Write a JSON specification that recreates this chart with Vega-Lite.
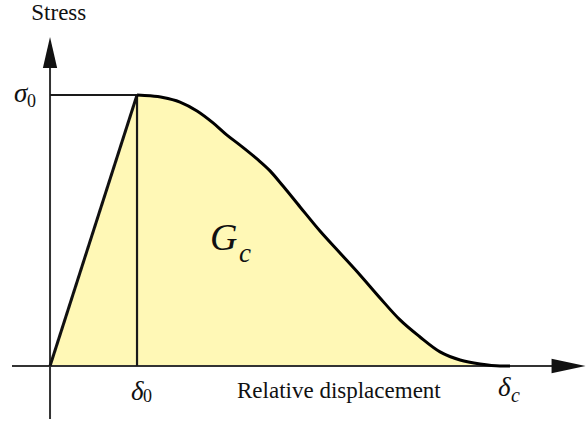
{
  "$schema": "https://vega.github.io/schema/vega-lite/v6.json",
  "width": 587,
  "height": 421,
  "autosize": {"type": "fit", "contains": "padding"},
  "padding": 0,
  "background": "white",
  "config": {"view": {"stroke": null}},
  "datasets": {
    "law": [
      {"d": 0.0, "s": 0.0},
      {"d": 1.0, "s": 1.0},
      {"d": 1.149, "s": 0.997},
      {"d": 1.299, "s": 0.991},
      {"d": 1.494, "s": 0.974},
      {"d": 1.690, "s": 0.941},
      {"d": 1.874, "s": 0.897},
      {"d": 2.034, "s": 0.852},
      {"d": 2.184, "s": 0.815},
      {"d": 2.379, "s": 0.764},
      {"d": 2.529, "s": 0.720},
      {"d": 2.678, "s": 0.664},
      {"d": 2.874, "s": 0.587},
      {"d": 3.103, "s": 0.498},
      {"d": 3.333, "s": 0.417},
      {"d": 3.563, "s": 0.336},
      {"d": 3.793, "s": 0.251},
      {"d": 4.023, "s": 0.170},
      {"d": 4.253, "s": 0.107},
      {"d": 4.483, "s": 0.052},
      {"d": 4.713, "s": 0.022},
      {"d": 4.943, "s": 0.007},
      {"d": 5.172, "s": 0.0},
      {"d": 5.287, "s": 0.0}
    ],
    "axes": [
      {"axis": "x", "d": -0.437, "s": 0, "d2": 5.98, "s2": 0},
      {"axis": "y", "d": 0, "s": -0.196, "d2": 0, "s2": 1.185}
    ],
    "guides": [
      {"guide": "sigma0", "d": 0, "s": 1, "d2": 1, "s2": 1},
      {"guide": "delta0", "d": 1, "s": 0, "d2": 1, "s2": 1}
    ],
    "arrows": [
      {"axis": "x", "d": 5.96, "s": 0},
      {"axis": "y", "d": 0, "s": 1.157}
    ],
    "labels": [
      {"role": "title", "text": "Stress", "d": -0.215, "s": 1.277},
      {"role": "title", "text": "Relative displacement", "d": 2.149, "s": -0.118},
      {"role": "greek", "text": "σ", "d": -0.414, "s": 0.974},
      {"role": "greek", "text": "δ", "d": 0.931, "s": -0.125},
      {"role": "greek", "text": "δ", "d": 5.149, "s": -0.111},
      {"role": "subUpright", "text": "0", "d": -0.264, "s": 0.956},
      {"role": "subUpright", "text": "0", "d": 1.069, "s": -0.133},
      {"role": "subItalic", "text": "c", "d": 5.299, "s": -0.133},
      {"role": "big", "text": "G", "d": 1.839, "s": 0.428},
      {"role": "bigSub", "text": "c", "d": 2.172, "s": 0.384}
    ]
  },
  "layer": [
    {
      "data": {"name": "law"},
      "mark": {"type": "area", "color": "#fff8b6", "opacity": 1},
      "encoding": {
        "x": {"field": "d", "type": "quantitative", "axis": null, "scale": {"domain": [-0.575, 6.172], "nice": false, "zero": false}},
        "y": {"field": "s", "type": "quantitative", "axis": null, "stack": null, "scale": {"domain": [-0.203, 1.3506], "nice": false, "zero": false}},
        "y2": {"datum": 0}
      }
    },
    {
      "data": {"name": "axes"},
      "mark": {"type": "rule", "color": "#333333", "strokeWidth": 2},
      "encoding": {
        "x": {"field": "d", "type": "quantitative", "axis": null, "scale": {"domain": [-0.575, 6.172], "nice": false, "zero": false}},
        "y": {"field": "s", "type": "quantitative", "axis": null, "scale": {"domain": [-0.203, 1.3506], "nice": false, "zero": false}},
        "x2": {"field": "d2"},
        "y2": {"field": "s2"}
      }
    },
    {
      "data": {"name": "guides"},
      "mark": {"type": "rule", "color": "#1a1a1a", "strokeWidth": 2.2},
      "encoding": {
        "x": {"field": "d", "type": "quantitative", "axis": null, "scale": {"domain": [-0.575, 6.172], "nice": false, "zero": false}},
        "y": {"field": "s", "type": "quantitative", "axis": null, "scale": {"domain": [-0.203, 1.3506], "nice": false, "zero": false}},
        "x2": {"field": "d2"},
        "y2": {"field": "s2"}
      }
    },
    {
      "data": {"name": "arrows"},
      "transform": [{"filter": "datum.axis === 'y'"}],
      "mark": {"type": "point", "shape": "M0,-1L0.46,1L-0.46,1Z", "size": 961, "filled": true, "color": "#111111", "opacity": 1},
      "encoding": {
        "x": {"field": "d", "type": "quantitative", "axis": null, "scale": {"domain": [-0.575, 6.172], "nice": false, "zero": false}},
        "y": {"field": "s", "type": "quantitative", "axis": null, "scale": {"domain": [-0.203, 1.3506], "nice": false, "zero": false}}
      }
    },
    {
      "data": {"name": "arrows"},
      "transform": [{"filter": "datum.axis === 'x'"}],
      "mark": {"type": "point", "shape": "M1,0L-1,-0.42L-1,0.42Z", "size": 1156, "filled": true, "color": "#111111", "opacity": 1},
      "encoding": {
        "x": {"field": "d", "type": "quantitative", "axis": null, "scale": {"domain": [-0.575, 6.172], "nice": false, "zero": false}},
        "y": {"field": "s", "type": "quantitative", "axis": null, "scale": {"domain": [-0.203, 1.3506], "nice": false, "zero": false}}
      }
    },
    {
      "data": {"name": "law"},
      "transform": [{"filter": "datum.d <= 1"}],
      "mark": {"type": "line", "color": "#111111", "strokeWidth": 3},
      "encoding": {
        "x": {"field": "d", "type": "quantitative", "axis": null, "scale": {"domain": [-0.575, 6.172], "nice": false, "zero": false}},
        "y": {"field": "s", "type": "quantitative", "axis": null, "scale": {"domain": [-0.203, 1.3506], "nice": false, "zero": false}}
      }
    },
    {
      "data": {"name": "law"},
      "transform": [{"filter": "datum.d >= 1"}],
      "mark": {"type": "line", "color": "#000000", "strokeWidth": 3, "interpolate": "monotone"},
      "encoding": {
        "x": {"field": "d", "type": "quantitative", "axis": null, "scale": {"domain": [-0.575, 6.172], "nice": false, "zero": false}},
        "y": {"field": "s", "type": "quantitative", "axis": null, "scale": {"domain": [-0.203, 1.3506], "nice": false, "zero": false}}
      }
    },
    {
      "data": {"name": "labels"},
      "transform": [{"filter": "datum.role === 'title'"}],
      "mark": {"type": "text", "font": "Liberation Serif, DejaVu Serif, serif", "fontSize": 23, "align": "left", "baseline": "alphabetic", "color": "#111111"},
      "encoding": {
        "x": {"field": "d", "type": "quantitative", "axis": null, "scale": {"domain": [-0.575, 6.172], "nice": false, "zero": false}},
        "y": {"field": "s", "type": "quantitative", "axis": null, "scale": {"domain": [-0.203, 1.3506], "nice": false, "zero": false}},
        "text": {"field": "text"}
      }
    },
    {
      "data": {"name": "labels"},
      "transform": [{"filter": "datum.role === 'greek'"}],
      "mark": {"type": "text", "font": "Liberation Serif, DejaVu Serif, serif", "fontStyle": "italic", "fontSize": 27, "align": "left", "baseline": "alphabetic", "color": "#111111"},
      "encoding": {
        "x": {"field": "d", "type": "quantitative", "axis": null, "scale": {"domain": [-0.575, 6.172], "nice": false, "zero": false}},
        "y": {"field": "s", "type": "quantitative", "axis": null, "scale": {"domain": [-0.203, 1.3506], "nice": false, "zero": false}},
        "text": {"field": "text"}
      }
    },
    {
      "data": {"name": "labels"},
      "transform": [{"filter": "datum.role === 'subUpright'"}],
      "mark": {"type": "text", "font": "Liberation Serif, DejaVu Serif, serif", "fontSize": 18, "align": "left", "baseline": "alphabetic", "color": "#111111"},
      "encoding": {
        "x": {"field": "d", "type": "quantitative", "axis": null, "scale": {"domain": [-0.575, 6.172], "nice": false, "zero": false}},
        "y": {"field": "s", "type": "quantitative", "axis": null, "scale": {"domain": [-0.203, 1.3506], "nice": false, "zero": false}},
        "text": {"field": "text"}
      }
    },
    {
      "data": {"name": "labels"},
      "transform": [{"filter": "datum.role === 'subItalic'"}],
      "mark": {"type": "text", "font": "Liberation Serif, DejaVu Serif, serif", "fontStyle": "italic", "fontSize": 20, "align": "left", "baseline": "alphabetic", "color": "#111111"},
      "encoding": {
        "x": {"field": "d", "type": "quantitative", "axis": null, "scale": {"domain": [-0.575, 6.172], "nice": false, "zero": false}},
        "y": {"field": "s", "type": "quantitative", "axis": null, "scale": {"domain": [-0.203, 1.3506], "nice": false, "zero": false}},
        "text": {"field": "text"}
      }
    },
    {
      "data": {"name": "labels"},
      "transform": [{"filter": "datum.role === 'big'"}],
      "mark": {"type": "text", "font": "Liberation Serif, DejaVu Serif, serif", "fontStyle": "italic", "fontSize": 38, "align": "left", "baseline": "alphabetic", "color": "#111111"},
      "encoding": {
        "x": {"field": "d", "type": "quantitative", "axis": null, "scale": {"domain": [-0.575, 6.172], "nice": false, "zero": false}},
        "y": {"field": "s", "type": "quantitative", "axis": null, "scale": {"domain": [-0.203, 1.3506], "nice": false, "zero": false}},
        "text": {"field": "text"}
      }
    },
    {
      "data": {"name": "labels"},
      "transform": [{"filter": "datum.role === 'bigSub'"}],
      "mark": {"type": "text", "font": "Liberation Serif, DejaVu Serif, serif", "fontStyle": "italic", "fontSize": 27, "align": "left", "baseline": "alphabetic", "color": "#111111"},
      "encoding": {
        "x": {"field": "d", "type": "quantitative", "axis": null, "scale": {"domain": [-0.575, 6.172], "nice": false, "zero": false}},
        "y": {"field": "s", "type": "quantitative", "axis": null, "scale": {"domain": [-0.203, 1.3506], "nice": false, "zero": false}},
        "text": {"field": "text"}
      }
    }
  ]
}
